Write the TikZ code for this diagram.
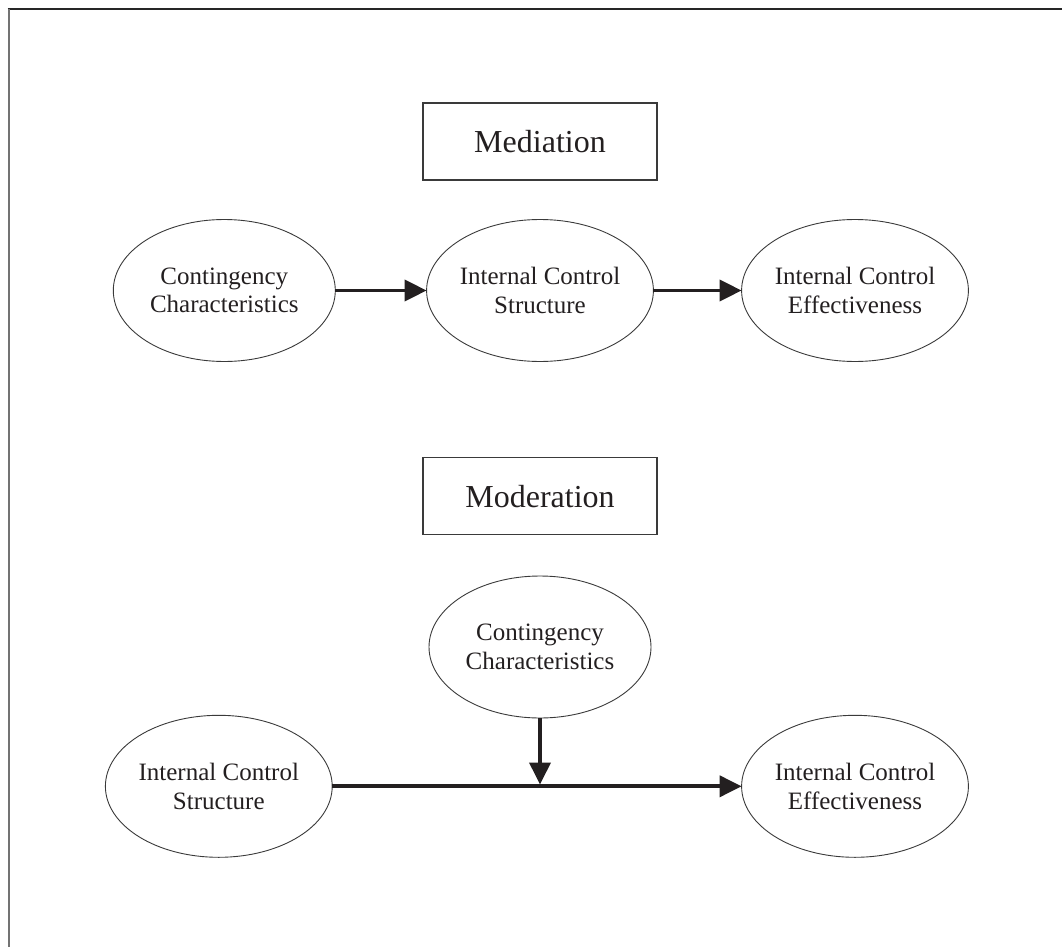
\documentclass[tikz,border=0pt]{standalone}
\usepackage{fontspec}
\setmainfont{Liberation Serif}
\usetikzlibrary{shapes.geometric,arrows.meta}
\definecolor{ink}{HTML}{231F20}
\definecolor{edge}{HTML}{3A3A3A}
\begin{document}
\begin{tikzpicture}[x=1pt,y=-1pt,
  oval/.style={ellipse,draw=edge,line width=0.9pt,minimum width=222pt,minimum height=142pt,
    inner sep=0pt,outer sep=0pt,align=center,text=ink,font=\fontsize{25}{28.5}\selectfont},
  titlebox/.style={rectangle,draw=edge,line width=1.3pt,minimum width=234pt,minimum height=77pt,
    inner sep=0pt,outer sep=0pt,text=ink,font=\fontsize{32}{36}\selectfont},
  arr/.style={draw=ink,line width=3.8pt,-{Triangle[length=22pt,width=21pt]},shorten >=0pt},
  plain/.style={draw=ink,line width=3.8pt}
]
\useasboundingbox (0,0) rectangle (1062,947);
% frame
\draw[color=black!85,line width=1.6pt] (7.5,9.3) -- (1062,9.3);
\draw[color=black!55,line width=2pt] (8.7,9.3) -- (8.7,947);

% Mediation
\node[titlebox] (medt) at (540,141.5) {Mediation};
\node[oval] (m1) at (224.3,290.5) {Contingency\\Characteristics};
\node[oval] (m2) at (540,290.5) {Internal Control\\Structure};
\node[oval] (m3) at (855,290.5) {Internal Control\\Effectiveness};
\draw[arr] (m1) -- (m2);
\draw[arr] (m2) -- (m3);

% Moderation
\node[titlebox] (modt) at (540,496.3) {Moderation};
\node[oval] (c) at (540,647) {Contingency\\Characteristics};
\node[oval] (s) at (218.8,786.3) {Internal Control\\Structure};
\node[oval] (e) at (855,786.3) {Internal Control\\Effectiveness};
\draw[arr] (s) -- (e);
\coordinate (j) at (540,784.5);
\draw[arr] (c) -- (j);
\end{tikzpicture}
\end{document}
